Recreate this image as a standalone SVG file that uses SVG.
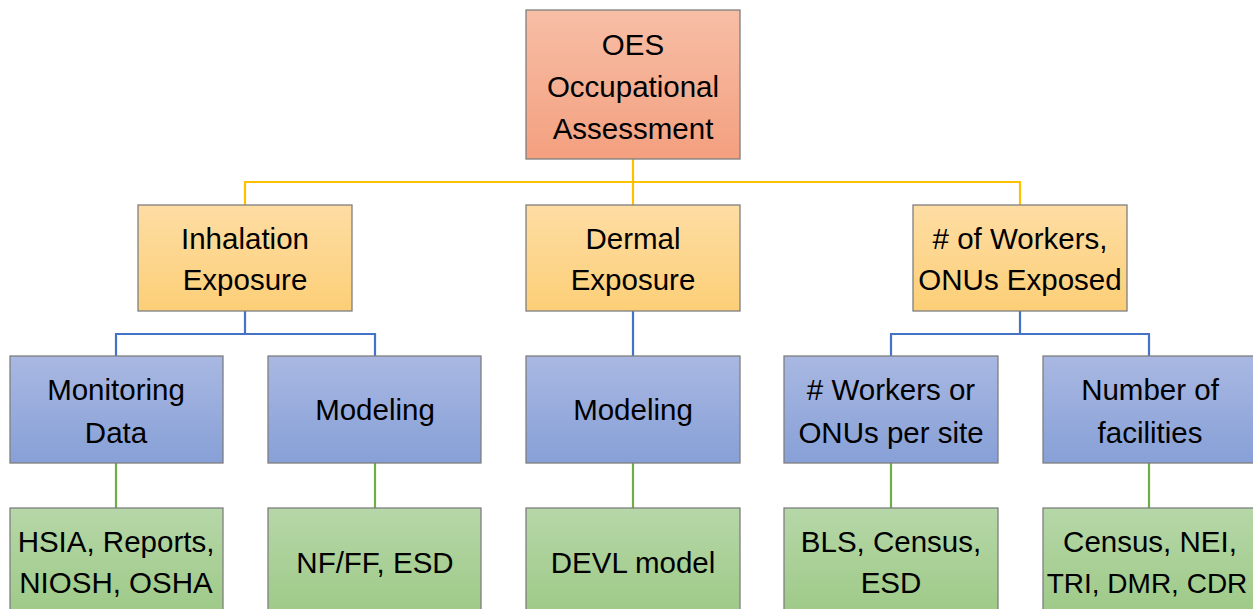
<svg xmlns="http://www.w3.org/2000/svg" width="1253" height="609" viewBox="0 0 1253 609">
<defs>
<linearGradient id="gRed" x1="0" y1="0" x2="0" y2="1"><stop offset="0" stop-color="#f7bea6"/><stop offset="1" stop-color="#f3a07f"/></linearGradient>
<linearGradient id="gOr" x1="0" y1="0" x2="0" y2="1"><stop offset="0" stop-color="#fedda4"/><stop offset="1" stop-color="#fccf77"/></linearGradient>
<linearGradient id="gBl" x1="0" y1="0" x2="0" y2="1"><stop offset="0" stop-color="#a9b8e2"/><stop offset="1" stop-color="#87a0d7"/></linearGradient>
<linearGradient id="gGr" x1="0" y1="0" x2="0" y2="1"><stop offset="0" stop-color="#b6d7a8"/><stop offset="1" stop-color="#9dc986"/></linearGradient>
</defs>
<style>
.r,.o,.b,.g{stroke:#7f7f7f;stroke-width:1.3}
.r{fill:url(#gRed)}.o{fill:url(#gOr)}.b{fill:url(#gBl)}.g{fill:url(#gGr)}
text{font-family:"Liberation Sans",Arial,sans-serif;font-size:29.5px;fill:#000;text-anchor:middle}
.cy{stroke:#ffc000;stroke-width:2.2;fill:none}
.cb{stroke:#4472c4;stroke-width:2.2;fill:none}
.cg{stroke:#70ad47;stroke-width:2.2;fill:none}
</style>
<rect width="1253" height="609" fill="#fff"/>
<g id="connectors">
<path class="cy" d="M633 159V182M245 205V182H1020V205M633 182V205"/>
<path class="cb" d="M245 311V334M116 356V334H375V356"/>
<path class="cb" d="M633 311V356"/>
<path class="cb" d="M1020 311V334M891 356V334H1149V356"/>
<path class="cg" d="M116 463V508M375 463V508M633 463V508M891 463V508M1149 463V508"/>
</g>
<g id="n-oes"><rect class="r" x="526" y="10" width="214" height="149"/><text x="633" y="55">OES</text><text x="633" y="97">Occupational</text><text x="633" y="139">Assessment</text></g>
<g id="n-inhal"><rect class="o" x="138" y="205" width="214" height="106"/><text x="245" y="249">Inhalation</text><text x="245" y="290">Exposure</text></g>
<g id="n-dermal"><rect class="o" x="526" y="205" width="214" height="106"/><text x="633" y="249">Dermal</text><text x="633" y="290">Exposure</text></g>
<g id="n-workers"><rect class="o" x="913" y="205" width="214" height="106"/><text x="1020" y="249"># of Workers,</text><text x="1020" y="290">ONUs Exposed</text></g>
<g id="n-monitor"><rect class="b" x="10" y="356" width="213" height="107"/><text x="116" y="400">Monitoring</text><text x="116" y="443">Data</text></g>
<g id="n-model1"><rect class="b" x="268" y="356" width="213" height="107"/><text x="375" y="420">Modeling</text></g>
<g id="n-model2"><rect class="b" x="526" y="356" width="214" height="107"/><text x="633" y="420">Modeling</text></g>
<g id="n-persite"><rect class="b" x="784" y="356" width="214" height="107"/><text x="891" y="400"># Workers or</text><text x="891" y="443">ONUs per site</text></g>
<g id="n-facil"><rect class="b" x="1043" y="356" width="216" height="107"/><text x="1150" y="400">Number of</text><text x="1150" y="443">facilities</text></g>
<g id="n-hsia"><rect class="g" x="10" y="508" width="213" height="110"/><text x="116" y="552">HSIA, Reports,</text><text x="116" y="593">NIOSH, OSHA</text></g>
<g id="n-nfff"><rect class="g" x="268" y="508" width="213" height="110"/><text x="375" y="573">NF/FF, ESD</text></g>
<g id="n-devl"><rect class="g" x="526" y="508" width="214" height="110"/><text x="633" y="573">DEVL model</text></g>
<g id="n-bls"><rect class="g" x="784" y="508" width="214" height="110"/><text x="891" y="552">BLS, Census,</text><text x="891" y="593">ESD</text></g>
<g id="n-census"><rect class="g" x="1043" y="508" width="216" height="110"/><text x="1150" y="552">Census, NEI,</text><text x="1147" y="593" style="font-size:28px">TRI, DMR, CDR</text></g>
</svg>
